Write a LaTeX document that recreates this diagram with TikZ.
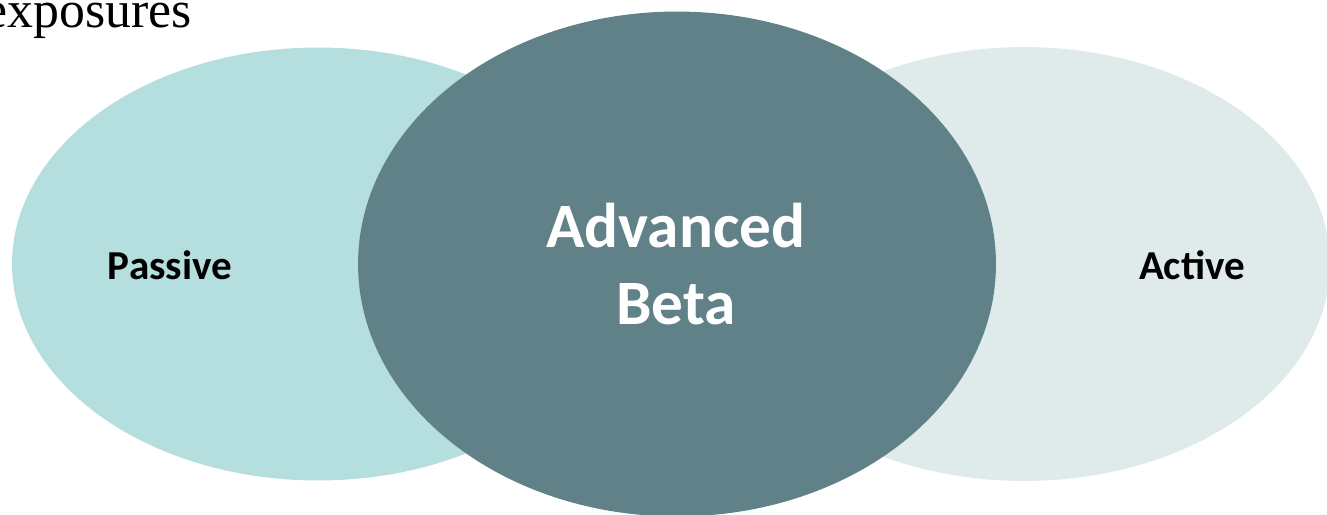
\documentclass[tikz,border=0pt]{standalone}
\usepackage{fontspec}
\setmainfont{Liberation Serif}
\newfontfamily\labelfont{Carlito}
\usetikzlibrary{shapes,positioning}

\definecolor{passivecol}{HTML}{B5DFDE}
\definecolor{activecol}{HTML}{DFEBEB}
\definecolor{betacol}{HTML}{5F8187}

\tikzset{
  blob/.style={ellipse, inner sep=0pt, draw=none},
  side/.style={font=\labelfont\bfseries\fontsize{23.4}{28}\selectfont, text=black},
}

\begin{document}
\begin{tikzpicture}[x=0.02cm, y=-0.02cm]
      \useasboundingbox (0,0) rectangle (1327,514);
      % the three overlapping ellipses
      \node[blob, fill=passivecol, minimum width=12.24cm, minimum height=8.66cm] (passive) at (318,264) {};
      \node[blob, fill=activecol, minimum width=12.24cm, minimum height=8.68cm] (active) at (1024,264) {};
      \node[blob, fill=betacol, minimum width=12.76cm, minimum height=10.1cm] (beta) at (677,264) {};
      % labels
      \node[side] (ptext) at (170,265) {Passive};
      \node[side] (atext) at (1192,265) {Active};
      \node[font=\labelfont\bfseries\fontsize{36}{43.7}\selectfont, text=white, align=center] (btext) at (676,264) {Advanced\\Beta};
      % heading left over at the top
      \node[anchor=base east, inner sep=0pt, font=\fontsize{29.5}{34}\selectfont] (head) at (192,27) {exposures};
\end{tikzpicture}
\end{document}
